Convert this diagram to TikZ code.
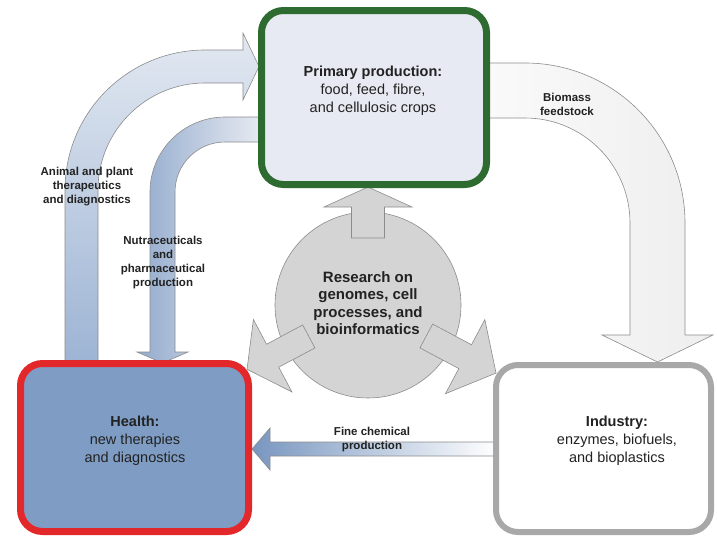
\documentclass[tikz,border=0pt]{standalone}
\usepackage{fontspec}
\setmainfont{Liberation Sans}
\usetikzlibrary{calc}
\definecolor{primgreen}{HTML}{2E6B30}
\definecolor{primfill}{HTML}{E7EAF2}
\definecolor{healthred}{HTML}{E3282B}
\definecolor{healthfill}{HTML}{7F9DC4}
\definecolor{indgrey}{HTML}{A8A8A8}
\definecolor{resfill}{HTML}{D4D4D4}
\definecolor{edgegrey}{HTML}{8C8C8C}
\definecolor{txt}{HTML}{222222}
\definecolor{bluelight}{HTML}{E2E8F1}
\definecolor{bluemid}{HTML}{9DB4D4}
\definecolor{bluedark}{HTML}{93ABCD}
\definecolor{bluepale}{HTML}{E8EBF2}
\definecolor{greypale}{HTML}{FAFAFA}
\definecolor{greylight}{HTML}{EEEEEE}
\definecolor{finedark}{HTML}{7896C0}
\tikzset{
  box/.style={rectangle, rounded corners=22pt, line width=7pt, inner sep=0pt},
  boxtext/.style={align=center, text=txt, font=\fontsize{14.5}{18}\selectfont},
  lbl/.style={align=center, text=txt, font=\bfseries\fontsize{11.5}{14}\selectfont},
  bigarrow/.style={draw=edgegrey, line width=0.6pt, line join=miter},
  resstyle/.style={draw=edgegrey, fill=resfill, line width=0.6pt, line join=miter}
}
% block arrow out of the research circle: angle, shaft start, head base, tip, head half width, shaft half width
\newcommand{\resarrow}[6]{%
  \draw[resstyle] ($(res)+(#1:#2)+(#1+90:#6)$) -- ($(res)+(#1:#3)+(#1+90:#6)$)
    -- ($(res)+(#1:#3)+(#1+90:#5)$) -- ($(res)+(#1:#4)$) -- ($(res)+(#1:#3)+(#1-90:#5)$)
    -- ($(res)+(#1:#3)+(#1-90:#6)$) -- ($(res)+(#1:#2)+(#1-90:#6)$) -- cycle;}
\begin{document}
\begin{tikzpicture}[x=1pt,y=-1pt]
\useasboundingbox (0,0) rectangle (717,538);
% curved arrows
\draw[bigarrow, top color=bluelight, bottom color=bluemid]
  (65,362) -- (65,190) arc[start angle=180, end angle=270, radius=140] -- (243,50)
  -- (243,33) -- (259,66.5) -- (243,100) -- (243,83) -- (205,83)
  arc[start angle=270, end angle=180, radius=107] -- (98,362) -- cycle;
\draw[bigarrow, left color=bluedark, right color=bluepale]
  (262,117) -- (225,117) arc[start angle=270, end angle=180, radius=75] -- (150,352)
  -- (137,352) -- (162.5,363) -- (188,352) -- (175,352) -- (175,192)
  arc[start angle=180, end angle=270, radius=50] -- (262,142) -- cycle;
\draw[bigarrow, left color=greypale, right color=greylight]
  (486,63) -- (525,63) arc[start angle=270, end angle=360, radius=160] -- (685,335)
  -- (713,335) -- (657.5,362) -- (602,335) -- (630,335) -- (630,223)
  arc[start angle=360, end angle=270, radius=105] -- (486,118) -- cycle;
\draw[bigarrow, left color=finedark, right color=white]
  (497,442) -- (270,442) -- (270,428) -- (252,449) -- (270,470) -- (270,456) -- (497,456) -- cycle;
% research circle
\node[circle, minimum size=186pt, fill=resfill, draw=edgegrey, line width=0.6pt] (res) at (368,305) {};
\resarrow{-90}{67}{98}{118}{44}{16.5}
\resarrow{152}{67}{108}{137}{41}{13}
\resarrow{28}{66}{110}{145}{42}{13.5}
\node[align=center, text=txt, font=\bfseries\fontsize{15}{17.5}\selectfont] (restext) at (368,303)
  {Research on\\genomes, cell\\processes, and\\bioinformatics};
% boxes
\node[box, draw=primgreen, fill=primfill, minimum width=225pt, minimum height=174pt] (prim) at (374,97.5) {};
\node[box, draw=healthred, fill=healthfill, minimum width=228pt, minimum height=168pt] (health) at (134.5,447.5) {};
\node[box, draw=indgrey, fill=white, line width=6pt, minimum width=215pt, minimum height=167pt] (ind) at (603.5,448.5) {};
\node[boxtext] (primtext) at (373,91) {\textbf{Primary production:}\\food, feed, fibre,\\and cellulosic crops};
\node[boxtext] (healthtext) at (135,441) {\textbf{Health:}\\new therapies\\and diagnostics};
\node[boxtext] (indtext) at (617,441) {\textbf{Industry:}\\enzymes, biofuels,\\and bioplastics};
% arrow labels
\node[lbl] (animal) at (87,187) {Animal and plant\\therapeutics\\and diagnostics};
\node[lbl] (nutra) at (163,263) {Nutraceuticals\\and\\pharmaceutical\\production};
\node[lbl] (biomass) at (567,104) {Biomass\\feedstock};
\node[lbl] (fine) at (372,440) {Fine chemical\\production};
\end{tikzpicture}
\end{document}
